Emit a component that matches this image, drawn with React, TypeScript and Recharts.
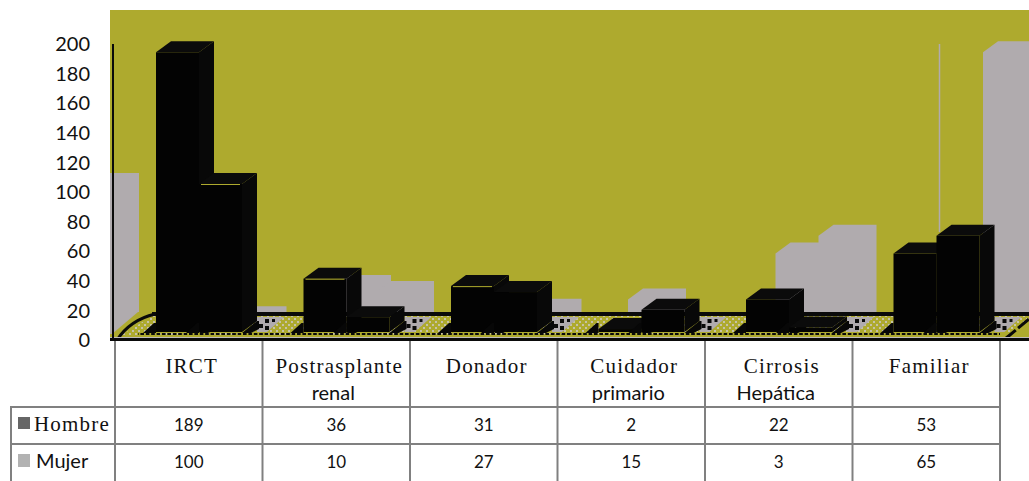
import React from "react";
import { BarChart, Bar, XAxis, YAxis } from "recharts";

const categories = ["IRCT", "Postrasplante", "Donador", "Cuidador", "Cirrosis", "Familiar"];
const secondLines = ["", "renal", "", "primario", "Hepática", ""];
const hombre = [189, 36, 31, 2, 22, 53];
const mujer = [100, 10, 27, 15, 3, 65];
const yTicks = [0, 20, 40, 60, 80, 100, 120, 140, 160, 180, 200];
const rows = categories.map((name, i) => ({ name, hombre: hombre[i], mujer: mujer[i] }));

const OLIVE = "#aeaa2e";
const GRAY = "#b0abae";
const SANS = "Lato, sans-serif";
const SERIF = "'Liberation Serif', serif";
const LINE = "#808080";

const DX = 15;
const DY = 11;
const FLOOR_LIFT = 8;
const SHIFT = 10;
const SHADOW_BACK = -118;
const SHADOW_WRAP = 827;

const BlackBar = (highlight: number[], trailing: boolean) => (p: any) => {
  const x = p.x + SHIFT;
  const w = p.width;
  const y = p.y - FLOOR_LIFT;
  const b = p.y + p.height - FLOOR_LIFT;
  const r = x + w + DX;
  return (
    <g>
      <polygon points={`${x - 13},${b + 1} ${x - 2},${b - 9} ${x},${b - 9} ${x},${b + 1}`} fill="#070707" />
      {trailing ? (
        <g>
          <polygon points={`${r},${b - 15} ${r + 27},${b - 15} ${r + 10},${b} ${r},${b}`} fill={GRAY} />
          <rect x={r + 2} y={b - 8} width={4} height={4} fill="#0a0a0a" />
          <rect x={r + 8} y={b - 13} width={4} height={4} fill="#0a0a0a" />
          <rect x={r + 15} y={b - 13} width={3} height={3} fill="#0a0a0a" />
          <rect x={r + 8} y={b - 6} width={4} height={4} fill="#0a0a0a" />
        </g>
      ) : null}
      <polygon points={`${x + w},${b + 1} ${r},${b - DY} ${r + 2},${b - DY} ${r + 2},${b - 3} ${x + w + 9},${b + 1}`} fill="#070707" />
      <polygon points={`${x},${y} ${x + DX},${y - DY} ${r},${y - DY} ${x + w},${y}`} fill="#0b0b0b" />
      <polygon points={`${x + w},${y} ${r},${y - DY} ${r},${b - DY} ${x + w},${b}`} fill="#080808" />
      <rect x={x} y={y} width={w} height={b - y} fill="#030303" />
      {highlight.includes(p.index) ? (
        <rect x={x + 2} y={y} width={w - 4} height={1} fill={OLIVE} />
      ) : null}
    </g>
  );
};

const Silhouette = ({ x, w, y, b }: any) => (
  <polygon
    points={`${x},${b} ${x},${y} ${x + DX},${y - DY} ${x + w + DX},${y - DY} ${x + w + DX},${b}`}
    fill={GRAY}
  />
);

const ShadowBar = (p: any) => {
  const x = p.x + SHIFT;
  const y = p.y - FLOOR_LIFT;
  const b = p.y + p.height - 28;
  return (
    <g clipPath="url(#plotClip)">
      <Silhouette x={x + SHADOW_BACK} w={p.width} y={y} b={b} />
      {p.index === 0 ? <Silhouette x={x + SHADOW_WRAP} w={p.width} y={y} b={b} /> : null}
    </g>
  );
};

const ColumnTick = (p: any) => {
  const half = 73.75;
  const i = p.index;
  const two = secondLines[i] !== "";
  return (
    <g>
      <line x1={p.x - half} x2={p.x - half} y1={341} y2={481} stroke={LINE} strokeWidth={2} />
      {i === categories.length - 1 ? (
        <line x1={p.x + half} x2={p.x + half} y1={341} y2={481} stroke={LINE} strokeWidth={2} />
      ) : null}
      <text x={p.x + 3} y={373} textAnchor="middle" fontFamily={SERIF} fontSize={21} letterSpacing={1.2} fill="#111">
        {categories[i]}
      </text>
      {two ? (
        <text x={p.x - 3} y={400} textAnchor="middle" fontFamily={SANS} fontSize={20} fill="#111">
          {secondLines[i]}
        </text>
      ) : null}
      <text x={p.x} y={431} textAnchor="middle" fontFamily={SANS} fontSize={17} fill="#111">
        {hombre[i]}
      </text>
      <text x={p.x} y={468} textAnchor="middle" fontFamily={SANS} fontSize={17} fill="#111">
        {mujer[i]}
      </text>
    </g>
  );
};

const Backdrop = () => (
  <svg width={1029} height={481} style={{ position: "absolute", left: 0, top: 0 }}>
    <defs>
      <clipPath id="plotClip">
        <rect x={110} y={10} width={919} height={302} />
      </clipPath>
      <pattern id="floorDither" width={6} height={6} patternUnits="userSpaceOnUse">
        <rect width={6} height={6} fill={OLIVE} />
        <rect x={0} y={0} width={2} height={2} fill="#c6c2a8" />
        <rect x={3} y={3} width={2} height={2} fill="#c6c2a8" />
      </pattern>
      <pattern id="edgeDots" width={5.4} height={4} patternUnits="userSpaceOnUse">
        <rect x={0} y={0} width={3.6} height={3} fill="#0a0a0a" />
      </pattern>
    </defs>
    <rect x={110} y={10} width={919} height={330} fill={OLIVE} />
    <polygon points="110,312 138,312 112,334 110,334" fill={GRAY} />
    <polygon points="122,335 152,316 1029,316 1029,318 1010,333" fill="url(#floorDither)" />
    <rect x={110} y={312} width={0} height={0} fill="none" />
  </svg>
);

const Foreground = () => (
  <svg width={1029} height={481} style={{ position: "absolute", left: 0, top: 0, pointerEvents: "none" }}>
    <rect x={138} y={333} width={862} height={3} fill="url(#edgeDots)" />
    <line x1={939.5} x2={939.5} y1={44} y2={232} stroke={GRAY} strokeWidth={1.5} />
  </svg>
);

const FloorLines = () => (
  <svg width={1029} height={481} style={{ position: "absolute", left: 0, top: 0 }}>
    <rect x={152} y={312} width={877} height={4} fill="#0a0a0a" />
    <path d="M117,340 Q130,320 155,314" fill="none" stroke="#0a0a0a" strokeWidth={3} />
    <path d="M1005,339 L1029,319" fill="none" stroke="#0a0a0a" strokeWidth={3} strokeDasharray="14 3" />
    <rect x={110} y={337} width={919} height={1} fill="#c0bcbc" />
    <rect x={110} y={338} width={919} height={3} fill="#0a0a0a" />
    <line x1={10} x2={1000} y1={407} y2={407} stroke={LINE} strokeWidth={2} />
    <line x1={10} x2={1000} y1={444} y2={444} stroke={LINE} strokeWidth={2} />
    <line x1={11} x2={11} y1={407} y2={481} stroke={LINE} strokeWidth={2} />
    <rect x={18} y={417} width={12} height={12} fill="#666666" />
    <text x={34} y={431} fontFamily={SERIF} fontSize={21} letterSpacing={1.2} fill="#111">Hombre</text>
    <rect x={18} y={454} width={12} height={13} fill="#b2b2b2" />
    <text x={36} y={468} fontFamily={SANS} fontSize={20} fill="#111">Mujer</text>
  </svg>
);

export default function App() {
  return (
    <div style={{ position: "absolute", left: 0, top: 0, width: 1029, height: 481, background: "#fff", overflow: "hidden" }}>
      <Backdrop />
      <FloorLines />
      <div style={{ position: "absolute", left: 0, top: 0 }}>
        <BarChart
          width={1029}
          height={481}
          data={rows}
          margin={{ top: 44, right: 29, bottom: 0, left: 0 }}
          barGap={0}
        >
          <XAxis
            dataKey="name"
            interval={0}
            height={141}
            padding={{ left: 2, right: 0 }}
            axisLine={false}
            tickLine={false}
            tick={ColumnTick}
          />
          <XAxis xAxisId="shadow" dataKey="name" hide padding={{ left: 2, right: 0 }} />
          <YAxis
            width={113}
            domain={[0, 200]}
            ticks={yTicks}
            interval={0}
            axisLine={{ stroke: "#0a0a0a", strokeWidth: 2 }}
            tickLine={false}
            tickMargin={17}
            tick={{ fontFamily: SANS, fontSize: 20, fill: "#111" }}
          />
          <Bar xAxisId="shadow" dataKey="hombre" barSize={43} shape={ShadowBar} isAnimationActive={false} />
          <Bar xAxisId="shadow" dataKey="mujer" barSize={43} shape={ShadowBar} isAnimationActive={false} />
          <Bar dataKey="hombre" barSize={43} shape={BlackBar([1, 2], false)} isAnimationActive={false} />
          <Bar dataKey="mujer" barSize={43} shape={BlackBar([0], true)} isAnimationActive={false} />
        </BarChart>
      </div>
      <Foreground />
    </div>
  );
}
